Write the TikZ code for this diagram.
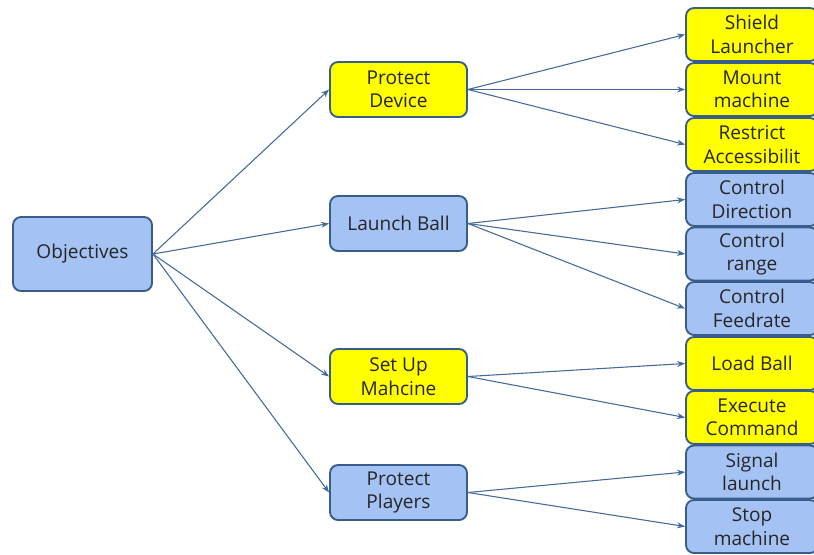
\documentclass[tikz,border=0pt]{standalone}
\usepackage{fontspec}
\setmainfont{Open Sans}
\usetikzlibrary{arrows.meta}
\definecolor{bfill}{HTML}{A4C2F4}
\definecolor{bdraw}{HTML}{385D8A}
\definecolor{yfill}{HTML}{FFFF00}
\definecolor{lcol}{HTML}{44699A}
\definecolor{tcol}{HTML}{262626}
\tikzset{
  box/.style={draw=bdraw, line width=1.4pt, rounded corners=6pt, align=center,
    text=tcol, font=\fontsize{14.3}{17.6}\selectfont, inner sep=1pt},
  bluebox/.style={box, fill=bfill},
  yelbox/.style={box, fill=yfill},
  midbox/.style={minimum width=102.75pt, minimum height=41.25pt},
  leafbox/.style={minimum width=99pt, minimum height=39.75pt},
  conn/.style={draw=lcol, line width=0.8pt, -{Stealth[length=6pt,width=4.5pt]}}
}
\begin{document}
\begin{tikzpicture}[x=0.75pt,y=-0.75pt]
\clip (0,0) rectangle (814,554);
\fill[white] (0,0) rectangle (814,554);
\node[bluebox, minimum width=104.25pt, minimum height=55.5pt] (obj) at (82.5,254) {Objectives};
\node[yelbox, midbox] (pd) at (398.5,89.5) {Protect\\Device};
\node[bluebox, midbox] (lb) at (398.5,223.5) {Launch Ball};
\node[yelbox, midbox] (su) at (398.5,376.5) {Set Up\\Mahcine};
\node[bluebox, midbox] (pp) at (398.5,492.5) {Protect\\Players};
\node[yelbox, leafbox] (sl) at (752,34.5) {Shield\\Launcher};
\node[yelbox, leafbox] (mm) at (752,89.5) {Mount\\machine};
\node[yelbox, leafbox] (ra) at (752,144.5) {Restrict\\Accessibilit};
\node[bluebox, leafbox] (cd) at (752,199.5) {Control\\Direction};
\node[bluebox, leafbox] (cr) at (752,254) {Control\\range};
\node[bluebox, leafbox] (cf) at (752,308.5) {Control\\Feedrate};
\node[yelbox, leafbox] (ld) at (752,363.5) {Load Ball};
\node[yelbox, leafbox] (ec) at (752,417.5) {Execute\\Command};
\node[bluebox, leafbox] (sg) at (752,472) {Signal\\launch};
\node[bluebox, leafbox] (sm) at (752,526.5) {Stop\\machine};
\foreach \t in {pd,lb,su,pp}{\draw[conn] (obj.east) -- (\t.west);}
\foreach \t in {sl,mm,ra}{\draw[conn] (pd.east) -- (\t.west);}
\foreach \t in {cd,cr,cf}{\draw[conn] (lb.east) -- (\t.west);}
\foreach \t in {ld,ec}{\draw[conn] (su.east) -- (\t.west);}
\foreach \t in {sg,sm}{\draw[conn] (pp.east) -- (\t.west);}
\end{tikzpicture}
\end{document}
